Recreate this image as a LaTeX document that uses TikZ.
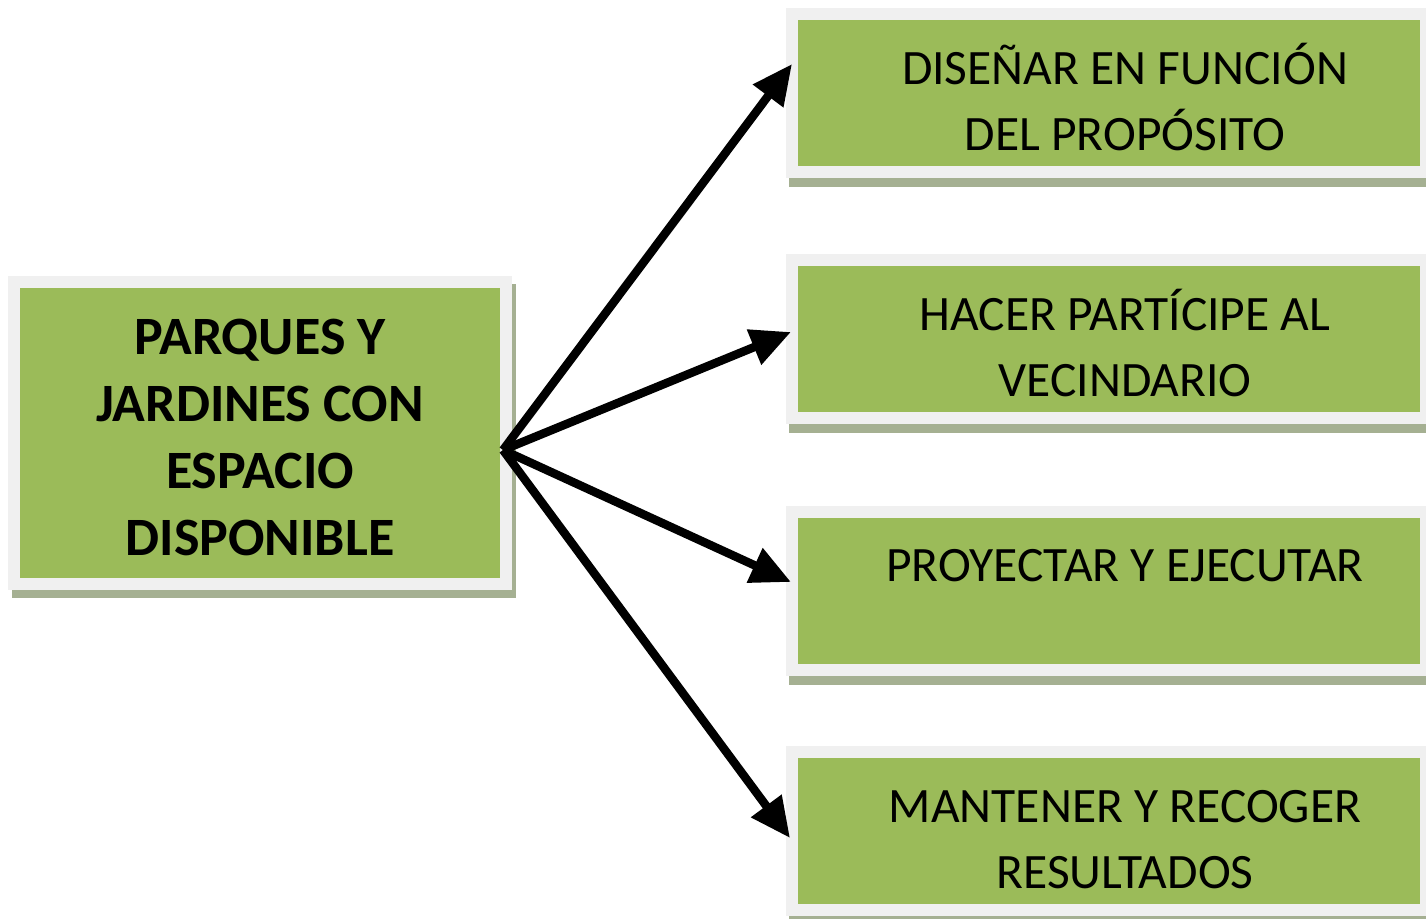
\documentclass[tikz,border=0pt]{standalone}
\usepackage{fontspec}
\setmainfont{Carlito}
\usetikzlibrary{arrows.meta,calc,backgrounds}
\definecolor{boxgreen}{HTML}{9BBB59}
\definecolor{framegray}{HTML}{F0F0F0}
\definecolor{shadowgray}{RGB}{165,176,146}

\begin{document}
\begin{tikzpicture}[x=1pt, y=-1pt,
		box/.style={rectangle, fill=boxgreen, draw=framegray, line width=12pt, inner sep=0pt},
		lbl/.style={align=center, inner sep=0pt, font=\fontsize{49.5}{66}\selectfont},
		arr/.style={line width=8.5pt, -{Triangle[length=40pt,width=36pt]}}]
		\useasboundingbox (0,0) rectangle (1426,918);
		% boxes
		\node[box, minimum width=492pt, minimum height=302pt] (src) at (260,433) {};
		\begin{scope}[every node/.style={box, minimum width=634pt, minimum height=158pt}]
			\node (b1) at (1109,93) {};
			\node (b2) at (1109,339) {};
			\node (b3) at (1109,590.5) {};
			\node (b4) at (1109,831) {};
		\end{scope}
		\begin{scope}[on background layer]
			\fill[white] (0,0) rectangle (1426,918);
			\fill[shadowgray] ([shift={(4,8)}]src.north west) rectangle ([shift={(4,8)}]src.south east);
			\foreach \b in {b1,b2,b3,b4}
			\fill[shadowgray] ([shift={(3,9)}]\b.north west) rectangle ([shift={(3,9)}]\b.south east);
		\end{scope}
		% texts
		\node[lbl, font=\bfseries\fontsize{54}{67}\selectfont] (srctxt) at ([shift={(0,9)}]src.center)
		{\strut PARQUES Y\\ \strut JARDINES CON\\ \strut ESPACIO\\ \strut DISPONIBLE};
		\node[lbl] (t1) at ([shift={(16,11)}]b1.center) {\strut DISEÑAR EN FUNCIÓN\\ \strut DEL PROPÓSITO};
		\node[lbl] (t2) at ([shift={(16,11)}]b2.center) {\strut HACER PARTÍCIPE AL\\ \strut VECINDARIO};
		\node[lbl] (t3) at ([shift={(16,11)}]b3.center) {\strut PROYECTAR Y EJECUTAR\\ \strut};
		\node[lbl] (t4) at ([shift={(16,11)}]b4.center) {\strut MANTENER Y RECOGER\\ \strut RESULTADOS};
		% arrows
		\coordinate (hub) at ($(src.east)+(-9,17)$);
		\draw[arr] (hub) -- ($(b1.west)+(6,-29)$);
		\draw[arr] (hub) -- ($(b2.west)+(5,-7)$);
		\draw[arr] (hub) -- ($(b3.west)+(5,-8.5)$);
		\draw[arr] (hub) -- ($(b4.west)+(4,7)$);
	\end{tikzpicture}
\end{document}
